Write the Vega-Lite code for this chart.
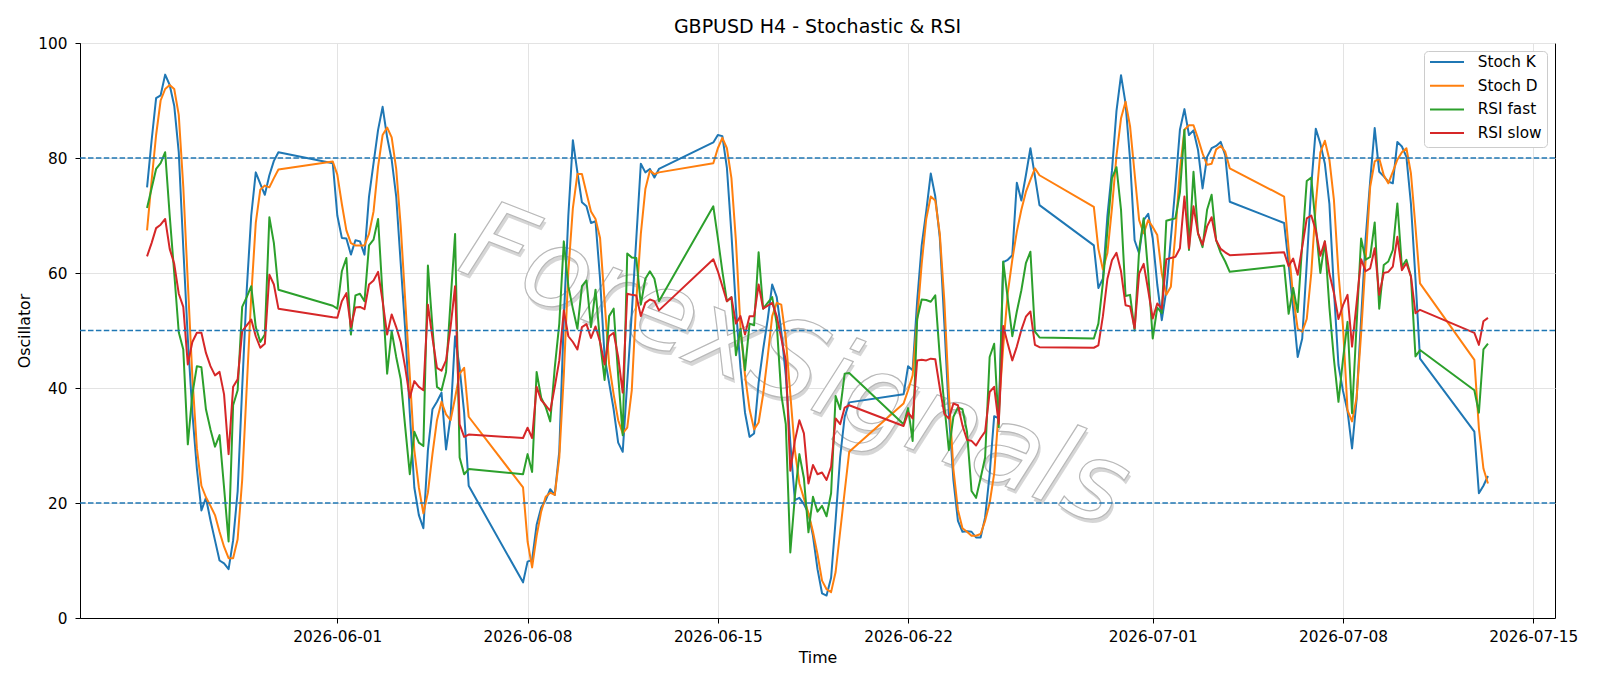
{
  "$schema": "https://vega.github.io/schema/vega-lite/v6.json",
  "autosize": {"type": "none"},
  "width": 1475,
  "height": 575,
  "padding": {"left": 80, "top": 43, "right": 45, "bottom": 68},
  "background": "white",
  "title": {"text": "GBPUSD H4 - Stochastic & RSI", "font": "DejaVu Sans", "fontSize": 19, "fontWeight": "normal", "color": "black", "anchor": "middle", "offset": -1},
  "config": {
    "view": {"stroke": "black", "strokeWidth": 1},
    "axis": {"grid": true, "gridColor": "#e3e3e3", "gridWidth": 1, "domainColor": "black", "tickColor": "black", "tickSize": 5, "labelFont": "DejaVu Sans", "labelFontSize": 15.3, "labelColor": "black", "titleFont": "DejaVu Sans", "titleFontSize": 15.8, "titleFontWeight": "normal", "titleColor": "black"},
    "axisX": {"labelPadding": 6.5, "titlePadding": 5.5},
    "axisY": {"labelPadding": 8, "titlePadding": 5.5}
  },
  "datasets": {
    "mark": [{"t": "2026-06-17T20:00", "value": 43.5, "label": "ForexSignals"}],
    "osc": [
      {"t":"2026-05-25T00:00","Stoch K":74.9,"Stoch D":67.4,"RSI fast":71.3,"RSI slow":62.9},
      {"t":"2026-05-25T04:00","Stoch K":83,"Stoch D":76,"RSI fast":74.7,"RSI slow":65.2},
      {"t":"2026-05-25T08:00","Stoch K":90.4,"Stoch D":84,"RSI fast":78.1,"RSI slow":67.8},
      {"t":"2026-05-25T12:00","Stoch K":90.9,"Stoch D":90,"RSI fast":79.1,"RSI slow":68.4},
      {"t":"2026-05-25T16:00","Stoch K":94.5,"Stoch D":92,"RSI fast":81,"RSI slow":69.4},
      {"t":"2026-05-25T20:00","Stoch K":92.7,"Stoch D":92.7,"RSI fast":70,"RSI slow":64.2},
      {"t":"2026-05-26T00:00","Stoch K":89.1,"Stoch D":92,"RSI fast":60,"RSI slow":61.6},
      {"t":"2026-05-26T04:00","Stoch K":81,"Stoch D":87.5,"RSI fast":49.7,"RSI slow":56.4},
      {"t":"2026-05-26T08:00","Stoch K":64.4,"Stoch D":75,"RSI fast":46.7,"RSI slow":54.1},
      {"t":"2026-05-26T12:00","Stoch K":48.6,"Stoch D":58.4,"RSI fast":30.2,"RSI slow":44.1},
      {"t":"2026-05-26T16:00","Stoch K":35.7,"Stoch D":42,"RSI fast":38.9,"RSI slow":48},
      {"t":"2026-05-26T20:00","Stoch K":26,"Stoch D":29.5,"RSI fast":43.8,"RSI slow":49.6},
      {"t":"2026-05-27T00:00","Stoch K":18.7,"Stoch D":23,"RSI fast":43.6,"RSI slow":49.6},
      {"t":"2026-05-27T04:00","Stoch K":20.9,"Stoch D":21,"RSI fast":36.3,"RSI slow":46.1},
      {"t":"2026-05-27T08:00","Stoch K":17,"Stoch D":19.5,"RSI fast":32.8,"RSI slow":43.8},
      {"t":"2026-05-27T12:00","Stoch K":13.5,"Stoch D":17.9,"RSI fast":29.8,"RSI slow":42.2},
      {"t":"2026-05-27T16:00","Stoch K":10,"Stoch D":15,"RSI fast":31.8,"RSI slow":42.8},
      {"t":"2026-05-27T20:00","Stoch K":9.5,"Stoch D":12.4,"RSI fast":22.7,"RSI slow":38.9},
      {"t":"2026-05-28T00:00","Stoch K":8.5,"Stoch D":10.4,"RSI fast":13.3,"RSI slow":28.5},
      {"t":"2026-05-28T04:00","Stoch K":13.5,"Stoch D":10.4,"RSI fast":37,"RSI slow":40.2},
      {"t":"2026-05-28T08:00","Stoch K":22,"Stoch D":13.7,"RSI fast":39.6,"RSI slow":41.5},
      {"t":"2026-05-28T12:00","Stoch K":40,"Stoch D":24,"RSI fast":54.1,"RSI slow":49.9},
      {"t":"2026-05-28T16:00","Stoch K":57,"Stoch D":40,"RSI fast":55.8,"RSI slow":50.9},
      {"t":"2026-05-28T20:00","Stoch K":70,"Stoch D":56,"RSI fast":57.7,"RSI slow":51.9},
      {"t":"2026-05-29T00:00","Stoch K":77.5,"Stoch D":68.7,"RSI fast":50.6,"RSI slow":49},
      {"t":"2026-05-29T04:00","Stoch K":75.5,"Stoch D":74.5,"RSI fast":48,"RSI slow":47},
      {"t":"2026-05-29T08:00","Stoch K":73.6,"Stoch D":75.2,"RSI fast":49.3,"RSI slow":47.7},
      {"t":"2026-05-29T12:00","Stoch K":77,"Stoch D":74.9,"RSI fast":69.7,"RSI slow":59.7},
      {"t":"2026-05-29T16:00","Stoch K":79.5,"Stoch D":76.5,"RSI fast":65.2,"RSI slow":58},
      {"t":"2026-05-29T20:00","Stoch K":81,"Stoch D":78,"RSI fast":57.1,"RSI slow":53.8},
      {"t":"2026-05-31T20:00","Stoch K":79.1,"Stoch D":79.4,"RSI fast":54.3,"RSI slow":52.3},
      {"t":"2026-06-01T00:00","Stoch K":70,"Stoch D":77.1,"RSI fast":53.8,"RSI slow":52.2},
      {"t":"2026-06-01T04:00","Stoch K":66.1,"Stoch D":72,"RSI fast":60.3,"RSI slow":55.1},
      {"t":"2026-06-01T08:00","Stoch K":66,"Stoch D":67.4,"RSI fast":62.6,"RSI slow":56.5},
      {"t":"2026-06-01T12:00","Stoch K":63.2,"Stoch D":65.2,"RSI fast":49.3,"RSI slow":50.6},
      {"t":"2026-06-01T16:00","Stoch K":65.7,"Stoch D":64.8,"RSI fast":56.1,"RSI slow":54},
      {"t":"2026-06-01T20:00","Stoch K":65.5,"Stoch D":64.8,"RSI fast":56.4,"RSI slow":54.1},
      {"t":"2026-06-02T00:00","Stoch K":63.2,"Stoch D":64.8,"RSI fast":55.1,"RSI slow":53.7},
      {"t":"2026-06-02T04:00","Stoch K":73.3,"Stoch D":66.8,"RSI fast":64.8,"RSI slow":58},
      {"t":"2026-06-02T08:00","Stoch K":79.1,"Stoch D":70.7,"RSI fast":65.8,"RSI slow":58.7},
      {"t":"2026-06-02T12:00","Stoch K":84.9,"Stoch D":78.5,"RSI fast":69.4,"RSI slow":60.2},
      {"t":"2026-06-02T16:00","Stoch K":88.9,"Stoch D":84,"RSI fast":56,"RSI slow":55.1},
      {"t":"2026-06-02T20:00","Stoch K":83.6,"Stoch D":85.3,"RSI fast":42.5,"RSI slow":49.3},
      {"t":"2026-06-03T00:00","Stoch K":79.7,"Stoch D":83.6,"RSI fast":49.9,"RSI slow":52.8},
      {"t":"2026-06-03T04:00","Stoch K":73.3,"Stoch D":78.1,"RSI fast":45.4,"RSI slow":50.6},
      {"t":"2026-06-03T08:00","Stoch K":61.6,"Stoch D":68.1,"RSI fast":41.5,"RSI slow":48},
      {"t":"2026-06-03T12:00","Stoch K":50,"Stoch D":55.1,"RSI fast":33.1,"RSI slow":43.5},
      {"t":"2026-06-03T16:00","Stoch K":35.7,"Stoch D":42.2,"RSI fast":25,"RSI slow":38.3},
      {"t":"2026-06-03T20:00","Stoch K":22.7,"Stoch D":29.2,"RSI fast":32.4,"RSI slow":41.2},
      {"t":"2026-06-04T00:00","Stoch K":17.9,"Stoch D":22.7,"RSI fast":30.5,"RSI slow":40.2},
      {"t":"2026-06-04T04:00","Stoch K":15.6,"Stoch D":18.2,"RSI fast":29.9,"RSI slow":39.6},
      {"t":"2026-06-04T08:00","Stoch K":29.2,"Stoch D":21.8,"RSI fast":61.3,"RSI slow":54.5},
      {"t":"2026-06-04T12:00","Stoch K":36.3,"Stoch D":28.5,"RSI fast":50.6,"RSI slow":48.7},
      {"t":"2026-06-04T16:00","Stoch K":37.6,"Stoch D":34.4,"RSI fast":40.2,"RSI slow":43.5},
      {"t":"2026-06-04T20:00","Stoch K":39.2,"Stoch D":37.6,"RSI fast":39.6,"RSI slow":43},
      {"t":"2026-06-05T00:00","Stoch K":29.3,"Stoch D":35.4,"RSI fast":42.8,"RSI slow":44.8},
      {"t":"2026-06-05T04:00","Stoch K":35,"Stoch D":34.4,"RSI fast":55.1,"RSI slow":50.6},
      {"t":"2026-06-05T08:00","Stoch K":49,"Stoch D":38.3,"RSI fast":66.8,"RSI slow":57.7},
      {"t":"2026-06-05T12:00","Stoch K":43.5,"Stoch D":42.5,"RSI fast":27.9,"RSI slow":33.7},
      {"t":"2026-06-05T16:00","Stoch K":35.7,"Stoch D":43.5,"RSI fast":25,"RSI slow":31.5},
      {"t":"2026-06-05T20:00","Stoch K":23,"Stoch D":35,"RSI fast":25.9,"RSI slow":31.9},
      {"t":"2026-06-07T20:00","Stoch K":6.2,"Stoch D":22.7,"RSI fast":25,"RSI slow":31.3},
      {"t":"2026-06-08T00:00","Stoch K":9.8,"Stoch D":13.3,"RSI fast":28.5,"RSI slow":33.1},
      {"t":"2026-06-08T04:00","Stoch K":10.1,"Stoch D":8.8,"RSI fast":25.4,"RSI slow":31.3},
      {"t":"2026-06-08T08:00","Stoch K":16.2,"Stoch D":14.3,"RSI fast":42.8,"RSI slow":40.2},
      {"t":"2026-06-08T12:00","Stoch K":19.2,"Stoch D":18.5,"RSI fast":38.3,"RSI slow":37.9},
      {"t":"2026-06-08T16:00","Stoch K":20.5,"Stoch D":21.1,"RSI fast":36.7,"RSI slow":37},
      {"t":"2026-06-08T20:00","Stoch K":22.4,"Stoch D":21.8,"RSI fast":34.2,"RSI slow":36},
      {"t":"2026-06-09T00:00","Stoch K":21.4,"Stoch D":21.4,"RSI fast":43.5,"RSI slow":40.2},
      {"t":"2026-06-09T04:00","Stoch K":29,"Stoch D":27.9,"RSI fast":51.2,"RSI slow":44.8},
      {"t":"2026-06-09T08:00","Stoch K":52,"Stoch D":42.2,"RSI fast":65.5,"RSI slow":53.5},
      {"t":"2026-06-09T12:00","Stoch K":70,"Stoch D":60.3,"RSI fast":57.7,"RSI slow":49},
      {"t":"2026-06-09T16:00","Stoch K":83.1,"Stoch D":71.3,"RSI fast":53.8,"RSI slow":48},
      {"t":"2026-06-09T20:00","Stoch K":77.5,"Stoch D":77.2,"RSI fast":50.3,"RSI slow":46.7},
      {"t":"2026-06-10T00:00","Stoch K":72.3,"Stoch D":77.2,"RSI fast":57.7,"RSI slow":50.6},
      {"t":"2026-06-10T04:00","Stoch K":71.6,"Stoch D":73.9,"RSI fast":58.7,"RSI slow":51.1},
      {"t":"2026-06-10T08:00","Stoch K":68.7,"Stoch D":70.7,"RSI fast":50.6,"RSI slow":48.7},
      {"t":"2026-06-10T12:00","Stoch K":69,"Stoch D":69.4,"RSI fast":57.1,"RSI slow":50.7},
      {"t":"2026-06-10T16:00","Stoch K":59,"Stoch D":66.1,"RSI fast":48,"RSI slow":48},
      {"t":"2026-06-10T20:00","Stoch K":45.4,"Stoch D":55.1,"RSI fast":41.4,"RSI slow":44.1},
      {"t":"2026-06-11T00:00","Stoch K":40.9,"Stoch D":44.1,"RSI fast":52.5,"RSI slow":49},
      {"t":"2026-06-11T04:00","Stoch K":36.3,"Stoch D":38.9,"RSI fast":53.8,"RSI slow":49.6},
      {"t":"2026-06-11T08:00","Stoch K":30.5,"Stoch D":34.4,"RSI fast":42.2,"RSI slow":45.4},
      {"t":"2026-06-11T12:00","Stoch K":28.9,"Stoch D":32.1,"RSI fast":31.8,"RSI slow":39.2},
      {"t":"2026-06-11T16:00","Stoch K":41,"Stoch D":33.1,"RSI fast":63.4,"RSI slow":56.4},
      {"t":"2026-06-11T20:00","Stoch K":53,"Stoch D":39.6,"RSI fast":62.7,"RSI slow":56.2},
      {"t":"2026-06-12T00:00","Stoch K":66,"Stoch D":55.1,"RSI fast":62.6,"RSI slow":56.1},
      {"t":"2026-06-12T04:00","Stoch K":79,"Stoch D":66.8,"RSI fast":54.5,"RSI slow":52.5},
      {"t":"2026-06-12T08:00","Stoch K":77.5,"Stoch D":74.6,"RSI fast":59,"RSI slow":54.8},
      {"t":"2026-06-12T12:00","Stoch K":78.1,"Stoch D":77.8,"RSI fast":60.3,"RSI slow":55.4},
      {"t":"2026-06-12T16:00","Stoch K":76.6,"Stoch D":77.2,"RSI fast":59,"RSI slow":55.1},
      {"t":"2026-06-12T20:00","Stoch K":78.1,"Stoch D":77.5,"RSI fast":55.1,"RSI slow":53.5},
      {"t":"2026-06-14T20:00","Stoch K":82.7,"Stoch D":79.1,"RSI fast":71.6,"RSI slow":62.4},
      {"t":"2026-06-15T00:00","Stoch K":84,"Stoch D":81.7,"RSI fast":66.1,"RSI slow":60.3},
      {"t":"2026-06-15T04:00","Stoch K":83.8,"Stoch D":83.5,"RSI fast":60.3,"RSI slow":57.7},
      {"t":"2026-06-15T08:00","Stoch K":78.3,"Stoch D":81.7,"RSI fast":55.1,"RSI slow":55.1},
      {"t":"2026-06-15T12:00","Stoch K":66.8,"Stoch D":76.5,"RSI fast":55.8,"RSI slow":55.8},
      {"t":"2026-06-15T16:00","Stoch K":53.8,"Stoch D":65.5,"RSI fast":45.7,"RSI slow":51.2},
      {"t":"2026-06-15T20:00","Stoch K":43.5,"Stoch D":50.6,"RSI fast":50.3,"RSI slow":52.5},
      {"t":"2026-06-16T00:00","Stoch K":35.7,"Stoch D":42.2,"RSI fast":43.1,"RSI slow":49.3},
      {"t":"2026-06-16T04:00","Stoch K":31.5,"Stoch D":36.3,"RSI fast":51.2,"RSI slow":52.5},
      {"t":"2026-06-16T08:00","Stoch K":32.1,"Stoch D":32.8,"RSI fast":50.9,"RSI slow":52.5},
      {"t":"2026-06-16T12:00","Stoch K":40.9,"Stoch D":34,"RSI fast":63.6,"RSI slow":58},
      {"t":"2026-06-16T16:00","Stoch K":46.7,"Stoch D":38.9,"RSI fast":53.8,"RSI slow":53.8},
      {"t":"2026-06-16T20:00","Stoch K":51.9,"Stoch D":45.4,"RSI fast":54.8,"RSI slow":54.3},
      {"t":"2026-06-17T00:00","Stoch K":58,"Stoch D":52.5,"RSI fast":55.8,"RSI slow":54.8},
      {"t":"2026-06-17T04:00","Stoch K":55.8,"Stoch D":54.8,"RSI fast":51.2,"RSI slow":52.5},
      {"t":"2026-06-17T08:00","Stoch K":49.9,"Stoch D":54.5,"RSI fast":38.9,"RSI slow":48.7},
      {"t":"2026-06-17T12:00","Stoch K":42.2,"Stoch D":48.7,"RSI fast":33.7,"RSI slow":44.8},
      {"t":"2026-06-17T16:00","Stoch K":30.5,"Stoch D":38.9,"RSI fast":11.4,"RSI slow":25.6},
      {"t":"2026-06-17T20:00","Stoch K":20.5,"Stoch D":29.2,"RSI fast":21.1,"RSI slow":30.8},
      {"t":"2026-06-18T00:00","Stoch K":20.9,"Stoch D":23.4,"RSI fast":28.5,"RSI slow":34.4},
      {"t":"2026-06-18T04:00","Stoch K":19.8,"Stoch D":20.8,"RSI fast":24.3,"RSI slow":32.1},
      {"t":"2026-06-18T08:00","Stoch K":18.2,"Stoch D":18.2,"RSI fast":14.9,"RSI slow":23.4},
      {"t":"2026-06-18T12:00","Stoch K":14.3,"Stoch D":15,"RSI fast":21.1,"RSI slow":26.6},
      {"t":"2026-06-18T16:00","Stoch K":8.5,"Stoch D":11.1,"RSI fast":18.5,"RSI slow":25},
      {"t":"2026-06-18T20:00","Stoch K":4.3,"Stoch D":6.5,"RSI fast":19.5,"RSI slow":25.3},
      {"t":"2026-06-19T00:00","Stoch K":3.9,"Stoch D":5,"RSI fast":17.7,"RSI slow":24},
      {"t":"2026-06-19T04:00","Stoch K":7,"Stoch D":4.5,"RSI fast":21.7,"RSI slow":26.3},
      {"t":"2026-06-19T08:00","Stoch K":17,"Stoch D":8,"RSI fast":38.6,"RSI slow":34.7},
      {"t":"2026-06-19T12:00","Stoch K":28,"Stoch D":15,"RSI fast":36.3,"RSI slow":33.7},
      {"t":"2026-06-19T16:00","Stoch K":35,"Stoch D":22,"RSI fast":42.5,"RSI slow":36.6},
      {"t":"2026-06-19T20:00","Stoch K":37.5,"Stoch D":28.9,"RSI fast":42.6,"RSI slow":37},
      {"t":"2026-06-21T20:00","Stoch K":38.9,"Stoch D":37.3,"RSI fast":33.7,"RSI slow":33.4},
      {"t":"2026-06-22T00:00","Stoch K":43.8,"Stoch D":39.6,"RSI fast":36.5,"RSI slow":35.7},
      {"t":"2026-06-22T04:00","Stoch K":43.1,"Stoch D":42.2,"RSI fast":30.8,"RSI slow":34.7},
      {"t":"2026-06-22T08:00","Stoch K":55.1,"Stoch D":51.9,"RSI fast":52,"RSI slow":44.8},
      {"t":"2026-06-22T12:00","Stoch K":64.8,"Stoch D":61.6,"RSI fast":55.4,"RSI slow":44.9},
      {"t":"2026-06-22T16:00","Stoch K":70.7,"Stoch D":69.4,"RSI fast":55.3,"RSI slow":44.8},
      {"t":"2026-06-22T20:00","Stoch K":77.3,"Stoch D":73.3,"RSI fast":55,"RSI slow":45.1},
      {"t":"2026-06-23T00:00","Stoch K":73.3,"Stoch D":72.6,"RSI fast":56.1,"RSI slow":45},
      {"t":"2026-06-23T04:00","Stoch K":66.1,"Stoch D":66.8,"RSI fast":45.4,"RSI slow":40},
      {"t":"2026-06-23T08:00","Stoch K":51.2,"Stoch D":55.1,"RSI fast":37,"RSI slow":35.5},
      {"t":"2026-06-23T12:00","Stoch K":35.7,"Stoch D":38.9,"RSI fast":29.2,"RSI slow":34.7},
      {"t":"2026-06-23T16:00","Stoch K":24,"Stoch D":25.9,"RSI fast":35,"RSI slow":37.3},
      {"t":"2026-06-23T20:00","Stoch K":16.9,"Stoch D":18.8,"RSI fast":36.6,"RSI slow":37},
      {"t":"2026-06-24T00:00","Stoch K":15,"Stoch D":15.6,"RSI fast":36.3,"RSI slow":33.5},
      {"t":"2026-06-24T04:00","Stoch K":15.1,"Stoch D":15,"RSI fast":32.4,"RSI slow":31},
      {"t":"2026-06-24T08:00","Stoch K":15,"Stoch D":14.3,"RSI fast":22.1,"RSI slow":30.8},
      {"t":"2026-06-24T12:00","Stoch K":14,"Stoch D":14.3,"RSI fast":20.9,"RSI slow":30},
      {"t":"2026-06-24T16:00","Stoch K":14,"Stoch D":14.6,"RSI fast":24.3,"RSI slow":31.3},
      {"t":"2026-06-24T20:00","Stoch K":17.5,"Stoch D":16.9,"RSI fast":27.9,"RSI slow":32.4},
      {"t":"2026-06-25T00:00","Stoch K":25,"Stoch D":20,"RSI fast":45.4,"RSI slow":39.3},
      {"t":"2026-06-25T04:00","Stoch K":35.1,"Stoch D":25.1,"RSI fast":47.7,"RSI slow":40.2},
      {"t":"2026-06-25T08:00","Stoch K":34.7,"Stoch D":36.1,"RSI fast":33.2,"RSI slow":33.8},
      {"t":"2026-06-25T12:00","Stoch K":61.9,"Stoch D":47.2,"RSI fast":62,"RSI slow":50.8},
      {"t":"2026-06-25T16:00","Stoch K":62.3,"Stoch D":56.5,"RSI fast":55.5,"RSI slow":47.7},
      {"t":"2026-06-25T20:00","Stoch K":63.1,"Stoch D":62.3,"RSI fast":49,"RSI slow":44.8},
      {"t":"2026-06-26T00:00","Stoch K":75.7,"Stoch D":67.2,"RSI fast":53.3,"RSI slow":47.2},
      {"t":"2026-06-26T04:00","Stoch K":72.6,"Stoch D":71,"RSI fast":57,"RSI slow":50.1},
      {"t":"2026-06-26T08:00","Stoch K":77,"Stoch D":74.1,"RSI fast":61.7,"RSI slow":52.4},
      {"t":"2026-06-26T12:00","Stoch K":81.7,"Stoch D":76.2,"RSI fast":63.7,"RSI slow":53.3},
      {"t":"2026-06-26T16:00","Stoch K":76.8,"Stoch D":78.2,"RSI fast":49.8,"RSI slow":47.5},
      {"t":"2026-06-26T20:00","Stoch K":71.8,"Stoch D":77,"RSI fast":48.8,"RSI slow":47.1},
      {"t":"2026-06-28T20:00","Stoch K":64.8,"Stoch D":71.5,"RSI fast":48.6,"RSI slow":47},
      {"t":"2026-06-29T00:00","Stoch K":57.4,"Stoch D":64.2,"RSI fast":51.2,"RSI slow":47.4},
      {"t":"2026-06-29T04:00","Stoch K":59,"Stoch D":60.6,"RSI fast":58.3,"RSI slow":52.5},
      {"t":"2026-06-29T08:00","Stoch K":70,"Stoch D":63.5,"RSI fast":67.4,"RSI slow":59},
      {"t":"2026-06-29T12:00","Stoch K":77.8,"Stoch D":71.3,"RSI fast":76.5,"RSI slow":62.2},
      {"t":"2026-06-29T16:00","Stoch K":88.2,"Stoch D":80.4,"RSI fast":78.4,"RSI slow":63.5},
      {"t":"2026-06-29T20:00","Stoch K":94.4,"Stoch D":86.9,"RSI fast":71,"RSI slow":60.3},
      {"t":"2026-06-30T00:00","Stoch K":89.5,"Stoch D":89.8,"RSI fast":56,"RSI slow":54.4},
      {"t":"2026-06-30T04:00","Stoch K":79.7,"Stoch D":85.5,"RSI fast":56.2,"RSI slow":54.2},
      {"t":"2026-06-30T08:00","Stoch K":65.7,"Stoch D":77.3,"RSI fast":50,"RSI slow":50.4},
      {"t":"2026-06-30T12:00","Stoch K":63.4,"Stoch D":69.2,"RSI fast":64,"RSI slow":59.9},
      {"t":"2026-06-30T16:00","Stoch K":69.2,"Stoch D":66.9,"RSI fast":69.5,"RSI slow":61.6},
      {"t":"2026-06-30T20:00","Stoch K":70.3,"Stoch D":69.2,"RSI fast":60,"RSI slow":57},
      {"t":"2026-07-01T00:00","Stoch K":66,"Stoch D":68,"RSI fast":48.6,"RSI slow":52.1},
      {"t":"2026-07-01T04:00","Stoch K":58,"Stoch D":66.6,"RSI fast":54,"RSI slow":54.7},
      {"t":"2026-07-01T08:00","Stoch K":51.8,"Stoch D":59.9,"RSI fast":53,"RSI slow":53.8},
      {"t":"2026-07-01T12:00","Stoch K":57,"Stoch D":56.2,"RSI fast":69.1,"RSI slow":62.4},
      {"t":"2026-07-01T16:00","Stoch K":66,"Stoch D":57.6,"RSI fast":69.3,"RSI slow":62.6},
      {"t":"2026-07-01T20:00","Stoch K":75,"Stoch D":66.9,"RSI fast":69.5,"RSI slow":62.8},
      {"t":"2026-07-02T00:00","Stoch K":84.9,"Stoch D":77.9,"RSI fast":74,"RSI slow":64.3},
      {"t":"2026-07-02T04:00","Stoch K":88.5,"Stoch D":84.9,"RSI fast":84.9,"RSI slow":73.3},
      {"t":"2026-07-02T08:00","Stoch K":84,"Stoch D":85.7,"RSI fast":64,"RSI slow":64.3},
      {"t":"2026-07-02T12:00","Stoch K":84.8,"Stoch D":85.7,"RSI fast":77.6,"RSI slow":71.6},
      {"t":"2026-07-02T16:00","Stoch K":81.4,"Stoch D":83.4,"RSI fast":66.9,"RSI slow":66.9},
      {"t":"2026-07-02T20:00","Stoch K":74.7,"Stoch D":80.8,"RSI fast":64.5,"RSI slow":64.9},
      {"t":"2026-07-03T00:00","Stoch K":80.2,"Stoch D":78.8,"RSI fast":71,"RSI slow":68.1},
      {"t":"2026-07-03T04:00","Stoch K":81.7,"Stoch D":79,"RSI fast":73.6,"RSI slow":69.7},
      {"t":"2026-07-03T08:00","Stoch K":82.1,"Stoch D":81.5,"RSI fast":65.7,"RSI slow":65.7},
      {"t":"2026-07-03T12:00","Stoch K":82.8,"Stoch D":82.1,"RSI fast":63.5,"RSI slow":64.2},
      {"t":"2026-07-03T16:00","Stoch K":80.5,"Stoch D":81.1,"RSI fast":62,"RSI slow":63.6},
      {"t":"2026-07-03T20:00","Stoch K":72.4,"Stoch D":78.2,"RSI fast":60.2,"RSI slow":63.1},
      {"t":"2026-07-05T20:00","Stoch K":68.7,"Stoch D":73.3,"RSI fast":61.3,"RSI slow":63.6},
      {"t":"2026-07-06T00:00","Stoch K":61.6,"Stoch D":64.2,"RSI fast":52.9,"RSI slow":61.2},
      {"t":"2026-07-06T04:00","Stoch K":53.8,"Stoch D":56,"RSI fast":57.4,"RSI slow":62.5},
      {"t":"2026-07-06T08:00","Stoch K":45.4,"Stoch D":50.3,"RSI fast":53.2,"RSI slow":59.7},
      {"t":"2026-07-06T12:00","Stoch K":48.6,"Stoch D":49.8,"RSI fast":65,"RSI slow":64.5},
      {"t":"2026-07-06T16:00","Stoch K":61.6,"Stoch D":52,"RSI fast":76,"RSI slow":69.5},
      {"t":"2026-07-06T20:00","Stoch K":75.2,"Stoch D":60,"RSI fast":76.6,"RSI slow":70},
      {"t":"2026-07-07T00:00","Stoch K":85.1,"Stoch D":72,"RSI fast":68,"RSI slow":67.4},
      {"t":"2026-07-07T04:00","Stoch K":82.5,"Stoch D":81,"RSI fast":60,"RSI slow":63},
      {"t":"2026-07-07T08:00","Stoch K":79,"Stoch D":83,"RSI fast":65.5,"RSI slow":65.5},
      {"t":"2026-07-07T12:00","Stoch K":72,"Stoch D":79.7,"RSI fast":54,"RSI slow":59.9},
      {"t":"2026-07-07T16:00","Stoch K":57,"Stoch D":72.7,"RSI fast":45,"RSI slow":56.5},
      {"t":"2026-07-07T20:00","Stoch K":44,"Stoch D":60,"RSI fast":37.6,"RSI slow":52},
      {"t":"2026-07-08T00:00","Stoch K":39.5,"Stoch D":50.7,"RSI fast":45,"RSI slow":54.4},
      {"t":"2026-07-08T04:00","Stoch K":36,"Stoch D":36.1,"RSI fast":51.5,"RSI slow":56.2},
      {"t":"2026-07-08T08:00","Stoch K":29.5,"Stoch D":34.2,"RSI fast":35.6,"RSI slow":47.2},
      {"t":"2026-07-08T12:00","Stoch K":38,"Stoch D":38.3,"RSI fast":51,"RSI slow":54.7},
      {"t":"2026-07-08T16:00","Stoch K":52,"Stoch D":49.5,"RSI fast":66,"RSI slow":62.4},
      {"t":"2026-07-08T20:00","Stoch K":66,"Stoch D":62.3,"RSI fast":62.3,"RSI slow":60.3},
      {"t":"2026-07-09T00:00","Stoch K":76,"Stoch D":75,"RSI fast":62.8,"RSI slow":60.8},
      {"t":"2026-07-09T04:00","Stoch K":85.2,"Stoch D":79.4,"RSI fast":68.8,"RSI slow":64.3},
      {"t":"2026-07-09T08:00","Stoch K":77.6,"Stoch D":79.9,"RSI fast":53.8,"RSI slow":56.2},
      {"t":"2026-07-09T12:00","Stoch K":76.8,"Stoch D":77,"RSI fast":61.4,"RSI slow":60},
      {"t":"2026-07-09T16:00","Stoch K":75.9,"Stoch D":75.6,"RSI fast":62,"RSI slow":60.2},
      {"t":"2026-07-09T20:00","Stoch K":75.6,"Stoch D":77.6,"RSI fast":64,"RSI slow":61.1},
      {"t":"2026-07-10T00:00","Stoch K":82.8,"Stoch D":79.7,"RSI fast":72.1,"RSI slow":66.3},
      {"t":"2026-07-10T04:00","Stoch K":82,"Stoch D":81,"RSI fast":61.1,"RSI slow":60.5},
      {"t":"2026-07-10T08:00","Stoch K":80.2,"Stoch D":81.7,"RSI fast":62.3,"RSI slow":61.7},
      {"t":"2026-07-10T12:00","Stoch K":72,"Stoch D":77.3,"RSI fast":59.4,"RSI slow":59.4},
      {"t":"2026-07-10T16:00","Stoch K":59,"Stoch D":68,"RSI fast":45.5,"RSI slow":53},
      {"t":"2026-07-10T20:00","Stoch K":45.1,"Stoch D":58.2,"RSI fast":46.6,"RSI slow":53.6},
      {"t":"2026-07-12T20:00","Stoch K":32.4,"Stoch D":44.9,"RSI fast":39.6,"RSI slow":49.6},
      {"t":"2026-07-13T00:00","Stoch K":21.7,"Stoch D":33,"RSI fast":35.7,"RSI slow":47.5},
      {"t":"2026-07-13T04:00","Stoch K":23,"Stoch D":26,"RSI fast":46.7,"RSI slow":51.6},
      {"t":"2026-07-13T08:00","Stoch K":24.7,"Stoch D":23.4,"RSI fast":47.7,"RSI slow":52.2}
    ]
  },
  "layer": [
    {
      "data": {"name": "mark"},
      "mark": {"type": "text", "font": "DejaVu Sans", "fontStyle": "italic", "fontSize": 110, "angle": 21.5, "align": "center", "baseline": "middle", "fill": "#c9c9c9", "opacity": 0.75, "dx": 3, "dy": 3},
      "encoding": {
        "x": {"field": "t", "type": "temporal", "title": "Time"},
        "y": {"field": "value", "type": "quantitative", "title": "Oscillator"},
        "text": {"field": "label"}
      }
    },
    {
      "data": {"name": "mark"},
      "mark": {"type": "text", "font": "DejaVu Sans", "fontStyle": "italic", "fontSize": 110, "angle": 21.5, "align": "center", "baseline": "middle", "fill": "white", "stroke": "#b8b8b8", "strokeWidth": 1.2},
      "encoding": {
        "x": {"field": "t", "type": "temporal", "title": "Time"},
        "y": {"field": "value", "type": "quantitative", "title": "Oscillator"},
        "text": {"field": "label"}
      }
    },
    {
      "data": {"name": "osc"},
      "transform": [{"fold": ["Stoch K", "Stoch D", "RSI fast", "RSI slow"], "as": ["series", "value"]}],
      "mark": {"type": "line", "strokeWidth": 2, "strokeJoin": "round", "clip": true},
      "encoding": {
        "x": {
          "field": "t", "type": "temporal", "title": "Time",
          "scale": {"domain": [
            {"year": 2026, "month": 5, "date": 22, "hours": 12, "minutes": 48},
            {"year": 2026, "month": 7, "date": 15, "hours": 19, "minutes": 12}
          ]},
          "axis": {
            "values": [
              {"year": 2026, "month": 6, "date": 1},
              {"year": 2026, "month": 6, "date": 8},
              {"year": 2026, "month": 6, "date": 15},
              {"year": 2026, "month": 6, "date": 22},
              {"year": 2026, "month": 7, "date": 1},
              {"year": 2026, "month": 7, "date": 8},
              {"year": 2026, "month": 7, "date": 15}
            ],
            "format": "%Y-%m-%d", "labelAngle": 0
          }
        },
        "y": {
          "field": "value", "type": "quantitative", "title": "Oscillator",
          "scale": {"domain": [0, 100], "nice": false},
          "axis": {"values": [0, 20, 40, 60, 80, 100]}
        },
        "color": {
          "field": "series", "type": "nominal",
          "sort": ["Stoch K", "Stoch D", "RSI fast", "RSI slow"],
          "scale": {"domain": ["Stoch K", "Stoch D", "RSI fast", "RSI slow"], "range": ["#1f77b4", "#ff7f0e", "#2ca02c", "#d62728"]},
          "legend": {
            "title": null, "orient": "top-right", "offset": 8,
            "fillColor": "white", "strokeColor": "#cccccc", "cornerRadius": 4, "padding": 5,
            "symbolType": "stroke", "symbolSize": 1156, "symbolStrokeWidth": 2, "clipHeight": 12,
            "labelFont": "DejaVu Sans", "labelFontSize": 15.3, "labelColor": "black", "labelOffset": 12.7, "rowPadding": 7.7
          }
        }
      }
    },
    {
      "data": {"values": [{"level": 20}, {"level": 50}, {"level": 80}]},
      "mark": {"type": "rule", "color": "#1f77b4", "strokeWidth": 1.4, "strokeDash": [5.5, 2.4]},
      "encoding": {"y": {"field": "level", "type": "quantitative"}}
    }
  ]
}
